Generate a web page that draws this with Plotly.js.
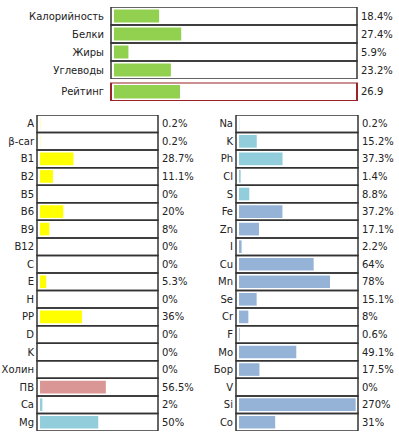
<!DOCTYPE html>
<html><head><meta charset="utf-8">
<script src="https://cdn.plot.ly/plotly-3.0.1.min.js"></script>
<style>html,body{margin:0;padding:0;background:#fff;}#chart{width:399px;height:432px;}</style>
</head><body><div id="chart"></div>
<script>
const macroCats = ['Калорийность','Белки','Жиры','Углеводы'];
const macroVals = [18.4, 27.4, 5.9, 23.2];
const ratingCats = ['Рейтинг'];
const ratingVals = [26.9];
const vitCats = ['A','β-car','B1','B2','B5','B6','B9','B12','C','E','H','PP','D','K','Холин','ПВ','Ca','Mg'];
const vitVals = [0.2,0.2,28.7,11.1,0,20,8,0,0,5.3,0,36,0,0,0,56.5,2,50];
const vitGroups = ['v','v','v','v','v','v','v','v','v','v','v','v','v','v','v','f','m','m'];
const minCats = ['Na','K','Ph','Cl','S','Fe','Zn','I','Cu','Mn','Se','Cr','F','Mo','Бор','V','Si','Co'];
const minVals = [0.2,15.2,37.3,1.4,8.8,37.2,17.1,2.2,64,78,15.1,8,0.6,49.1,17.5,0,270,31];
const minGroups = ['m','m','m','m','m','t','t','t','t','t','t','t','t','t','t','t','t','t'];

const groupColor = {g:'#92d050', v:'#ffff00', f:'#da9694', m:'#92cddc', t:'#95b3d7'};
const FONT = 'DejaVu Sans, Verdana, sans-serif';
const TXT = '#222';
const H = 432, W = 399;
const yd = (top, bot) => [1 - bot / H, 1 - top / H];
const xd = (l, r) => [l / W, r / W];

function barTrace(cats, vals, colors, ax) {
  return {
    type: 'bar', orientation: 'h', y: cats, x: vals.map(v => Math.min(v, 100)),
    marker: {color: colors, line: {width: 0}}, xaxis: 'x' + ax, yaxis: 'y' + ax,
    hoverinfo: 'skip', showlegend: false
  };
}
const data = [
  barTrace(macroCats, macroVals, macroCats.map(() => groupColor.g), ''),
  barTrace(ratingCats, ratingVals, ratingCats.map(() => groupColor.g), '2'),
  barTrace(vitCats, vitVals, vitGroups.map(g => groupColor[g]), '3'),
  barTrace(minCats, minVals, minGroups.map(g => groupColor[g]), '4')
];

function xax(dom, anchor, range) {
  return {domain: dom, anchor: anchor, range: range, showgrid: false, zeroline: false,
    showline: false, showticklabels: false, ticks: '', fixedrange: true};
}
function yax(dom, anchor, n, standoff) {
  return {domain: dom, anchor: anchor, type: 'category', range: [n - 0.5, -0.5],
    showgrid: false, zeroline: false, showline: false, ticks: '', ticklabelstandoff: standoff,
    tickfont: {family: FONT, size: 10, color: TXT}, fixedrange: true};
}

const shapes = [];
const annotations = [];
function rows(cats, vals, ax, suffix, color, lw) {
  const xr = 'x' + ax + ' domain', yr = 'y' + ax;
  cats.forEach((c, i) => {
    shapes.push({type: 'rect', xref: xr, yref: yr, x0: 0, x1: 1, y0: i - 0.5, y1: i + 0.5,
      line: {color: color, width: lw}, fillcolor: 'rgba(0,0,0,0)', layer: 'above'});
    annotations.push({xref: xr, yref: yr, x: 1, y: c, xanchor: 'left', xshift: 2,
      text: vals[i] + suffix, showarrow: false, font: {family: FONT, size: 10, color: TXT}});
  });
}
rows(macroCats, macroVals, '', '%', '#333', 1.5);
rows(ratingCats, ratingVals, '2', '', '#9b2226', 2);
rows(vitCats, vitVals, '3', '%', '#333', 1.5);
rows(minCats, minVals, '4', '%', '#333', 1.5);

const layout = {
  width: W, height: H, margin: {l: 0, r: 0, t: 0, b: 0},
  paper_bgcolor: '#fff', plot_bgcolor: '#fff', bargap: 0.28,
  font: {family: FONT, size: 10, color: TXT},
  xaxis: xax(xd(111, 357), 'y', [-1.2, 99]),
  yaxis: yax(yd(7, 79), 'x', macroCats.length, 6),
  xaxis2: xax(xd(111, 357), 'y2', [-1.2, 99]),
  yaxis2: yax(yd(82.5, 101), 'x2', ratingCats.length, 6),
  xaxis3: xax(xd(37, 158), 'y3', [-2.6, 101.3]),
  yaxis3: yax(yd(115, 431), 'x3', vitCats.length, 2),
  xaxis4: xax(xd(236, 358), 'y4', [-2.6, 102]),
  yaxis4: yax(yd(115, 431), 'x4', minCats.length, 2),
  shapes: shapes, annotations: annotations
};
Plotly.newPlot('chart', data, layout, {displayModeBar: false, staticPlot: true});
</script></body></html>
